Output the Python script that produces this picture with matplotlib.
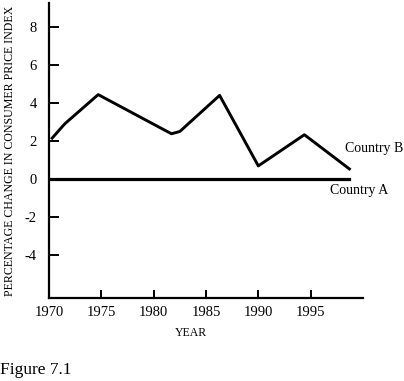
import matplotlib.pyplot as plt

plt.rcParams["font.family"] = ["Liberation Serif", "DejaVu Serif"]
plt.rcParams["axes.unicode_minus"] = False

# Country B: inflation path
years_b = [1970.3, 1971.5, 1974.7, 1981.7, 1982.5, 1986.3, 1990.0, 1994.4, 1998.7]
cpi_b = [2.15, 2.9, 4.44, 2.38, 2.5, 4.4, 0.69, 2.33, 0.53]

# Country A: zero inflation
years_a = [1970.0, 1998.7]
cpi_a = [0.0, 0.0]

x_ticks = [1970, 1975, 1980, 1985, 1990, 1995]
y_ticks = [-4, -2, 0, 2, 4, 6, 8]

W, H = 404, 381
fig = plt.figure(figsize=(W / 100, H / 100), dpi=100)
ax = fig.add_axes([49 / W, (H - 298) / H, 314 / W, 295 / H])

ax.plot(years_b, cpi_b, color="black", lw=2.1, solid_joinstyle="round")
ax.plot(years_a, cpi_a, color="black", lw=2.3)

ax.set_xlim(1970, 2000)
ax.set_ylim(-6.26, 9.26)
ax.set_xticks(x_ticks)
ax.set_yticks(y_ticks)
ax.tick_params(axis="both", direction="in", width=1.4, labelsize=10.5, colors="black")
ax.tick_params(axis="y", length=7, pad=9)
ax.tick_params(axis="x", length=6, pad=6)

for side in ("top", "right"):
    ax.spines[side].set_visible(False)
for side in ("left", "bottom"):
    ax.spines[side].set_linewidth(1.6)

ax.text(1998.3, 1.58, "Country B", fontsize=10, va="center", ha="left", clip_on=False)
ax.text(1996.8, -0.6, "Country A", fontsize=10, va="center", ha="left", clip_on=False)

fig.text(191 / W, 1 - 333 / H, "YEAR", fontsize=8.5, ha="center", va="center")
fig.text(10 / W, 1 - 151 / H, "PERCENTAGE CHANGE IN CONSUMER PRICE INDEX",
         fontsize=8.6, rotation=90, ha="center", va="center")
fig.text(0 / W, 1 - 370 / H, "Figure 7.1", fontsize=12.5, ha="left", va="center")

fig.savefig("out.png", dpi=100)
